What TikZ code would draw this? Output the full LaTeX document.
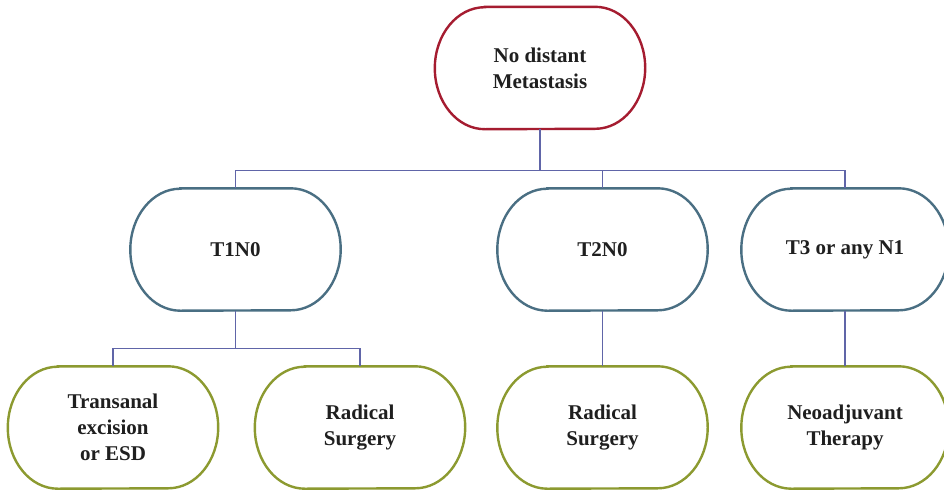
\documentclass[tikz,border=0pt]{standalone}
\usepackage{fontspec}
\setmainfont{Liberation Serif}
\usetikzlibrary{calc}
\definecolor{cred}{HTML}{A51C30}
\definecolor{cteal}{HTML}{4A6F83}
\definecolor{colive}{HTML}{8C9A30}
\definecolor{cconn}{HTML}{6065A8}
\tikzset{
  pill/.style={draw=none, minimum width=210pt, minimum height=122pt, inner sep=0pt,
    align=center, font=\fontsize{21}{26}\selectfont\bfseries, text=black!88},
  conn/.style={draw=cconn, line width=1.1pt},
}
\newcommand\pillpath[2]{%
  \draw[line width=2.4pt, draw=#2]
    ($(#1.north west)+(50,0)$) -- ($(#1.north east)+(-50,0)$)
    arc[start angle=90, end angle=-90, x radius=50pt, y radius=61pt]
    -- ($(#1.south west)+(50,0)$)
    arc[start angle=270, end angle=90, x radius=50pt, y radius=61pt] -- cycle;}
\begin{document}
\begin{tikzpicture}[x=1pt,y=-1pt]
\useasboundingbox (0,0) rectangle (944,490);
\clip (0,0) rectangle (944,490);
\fill[white] (0,0) rectangle (944,490);
\node[pill] (top) at (540,68) {No distant\\Metastasis};
\node[pill] (t1) at (235.5,249.5) {T1N0};
\node[pill] (t2) at (602.5,249.5) {T2N0};
\node[pill, minimum width=207pt] (t3) at (845,249.5) {T3 or any N1};
\node[pill] (c1) at (113,427.5) {Transanal\\excision\\or ESD};
\node[pill] (c2) at (360,427.5) {Radical\\Surgery};
\node[pill] (c3) at (602.5,427.5) {Radical\\Surgery};
\node[pill, minimum width=207pt] (c4) at (845,427.5) {Neoadjuvant\\Therapy};
\pillpath{top}{cred}
\pillpath{t1}{cteal}
\pillpath{t2}{cteal}
\pillpath{t3}{cteal}
\pillpath{c1}{colive}
\pillpath{c2}{colive}
\pillpath{c3}{colive}
\pillpath{c4}{colive}
\draw[conn] (top.south) -- ++(0,41) -| (t1.north);
\draw[conn] (top.south) -- ++(0,41) -| (t2.north);
\draw[conn] (top.south) -- ++(0,41) -| (t3.north);
\draw[conn] (t1.south) -- ++(0,38) -| (c1.north);
\draw[conn] (t1.south) -- ++(0,38) -| (c2.north);
\draw[conn] (t2.south) -- (c3.north);
\draw[conn] (t3.south) -- (c4.north);
\end{tikzpicture}
\end{document}
